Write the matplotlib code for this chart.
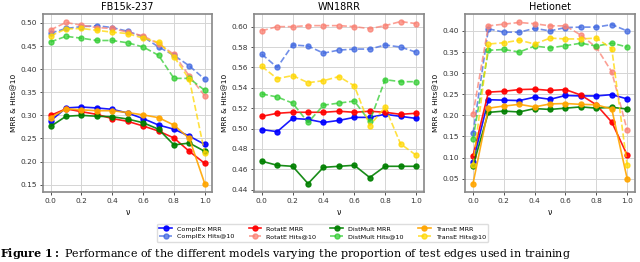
import numpy as np
import matplotlib.pyplot as plt

# proportion nu
nu = [0.0, 0.1, 0.2, 0.3, 0.4, 0.5, 0.6, 0.7, 0.8, 0.9, 1.0]

datasets = ['FB15k-237', 'WN18RR', 'Hetionet']

# FB15k-237
fb_complex_mrr = [0.288, 0.316, 0.318, 0.316, 0.313, 0.305, 0.293, 0.279, 0.270, 0.255, 0.237]
fb_complex_hits = [0.478, 0.488, 0.492, 0.494, 0.490, 0.482, 0.470, 0.448, 0.430, 0.407, 0.378]
fb_rotate_mrr = [0.300, 0.314, 0.308, 0.302, 0.293, 0.287, 0.277, 0.266, 0.251, 0.222, 0.196]
fb_rotate_hits = [0.485, 0.501, 0.495, 0.490, 0.488, 0.480, 0.472, 0.455, 0.432, 0.385, 0.342]
fb_distmult_mrr = [0.276, 0.298, 0.300, 0.298, 0.297, 0.292, 0.284, 0.270, 0.236, 0.240, 0.222]
fb_distmult_hits = [0.459, 0.471, 0.467, 0.462, 0.462, 0.457, 0.448, 0.430, 0.380, 0.380, 0.354]
fb_transe_mrr = [0.295, 0.314, 0.312, 0.310, 0.310, 0.306, 0.301, 0.295, 0.279, 0.250, 0.152]
fb_transe_hits = [0.472, 0.487, 0.488, 0.484, 0.480, 0.477, 0.467, 0.458, 0.427, 0.378, 0.218]

# WN18RR (TransE MRR is below the shown range)
wn_complex_mrr = [0.499, 0.497, 0.510, 0.509, 0.506, 0.508, 0.511, 0.511, 0.514, 0.512, 0.510]
wn_complex_hits = [0.573, 0.560, 0.582, 0.581, 0.574, 0.577, 0.578, 0.578, 0.582, 0.580, 0.575]
wn_rotate_mrr = [0.512, 0.515, 0.516, 0.516, 0.516, 0.517, 0.516, 0.517, 0.516, 0.514, 0.515]
wn_rotate_hits = [0.596, 0.600, 0.600, 0.601, 0.601, 0.601, 0.600, 0.598, 0.601, 0.605, 0.603]
wn_distmult_mrr = [0.468, 0.464, 0.463, 0.446, 0.462, 0.463, 0.464, 0.452, 0.463, 0.463, 0.463]
wn_distmult_hits = [0.534, 0.531, 0.525, 0.506, 0.523, 0.525, 0.527, 0.507, 0.548, 0.546, 0.546]
wn_transe_mrr = None
wn_transe_hits = [0.561, 0.549, 0.552, 0.545, 0.547, 0.551, 0.542, 0.503, 0.521, 0.485, 0.474]

# Hetionet
he_complex_mrr = [0.090, 0.237, 0.236, 0.235, 0.243, 0.238, 0.247, 0.246, 0.246, 0.249, 0.239]
he_complex_hits = [0.157, 0.405, 0.397, 0.397, 0.406, 0.400, 0.408, 0.409, 0.409, 0.415, 0.400]
he_rotate_mrr = [0.104, 0.255, 0.257, 0.261, 0.262, 0.259, 0.261, 0.248, 0.225, 0.184, 0.106]
he_rotate_hits = [0.203, 0.412, 0.416, 0.420, 0.417, 0.412, 0.412, 0.390, 0.361, 0.303, 0.165]
he_distmult_mrr = [0.080, 0.207, 0.210, 0.208, 0.216, 0.214, 0.217, 0.220, 0.217, 0.219, 0.215]
he_distmult_hits = [0.145, 0.354, 0.356, 0.350, 0.364, 0.360, 0.365, 0.371, 0.364, 0.371, 0.362]
he_transe_mrr = [0.038, 0.217, 0.222, 0.226, 0.220, 0.227, 0.228, 0.226, 0.225, 0.215, 0.050]
he_transe_hits = [0.083, 0.369, 0.372, 0.378, 0.369, 0.383, 0.381, 0.381, 0.383, 0.358, 0.082]

series_names = ['ComplEx MRR', 'ComplEx Hits@10', 'RotatE MRR', 'RotatE Hits@10',
                'DistMult MRR', 'DistMult Hits@10', 'TransE MRR', 'TransE Hits@10']
colors = ['blue', 'royalblue', 'red', 'salmon', 'green', 'limegreen', 'orange', 'gold']

all_data = [
    [fb_complex_mrr, fb_complex_hits, fb_rotate_mrr, fb_rotate_hits,
     fb_distmult_mrr, fb_distmult_hits, fb_transe_mrr, fb_transe_hits],
    [wn_complex_mrr, wn_complex_hits, wn_rotate_mrr, wn_rotate_hits,
     wn_distmult_mrr, wn_distmult_hits, wn_transe_mrr, wn_transe_hits],
    [he_complex_mrr, he_complex_hits, he_rotate_mrr, he_rotate_hits,
     he_distmult_mrr, he_distmult_hits, he_transe_mrr, he_transe_hits],
]

yticks = [np.arange(0.15, 0.51, 0.05), np.arange(0.44, 0.61, 0.02), np.arange(0.05, 0.41, 0.05)]

plt.rcParams['mathtext.fontset'] = 'dejavuserif'

fig = plt.figure(figsize=(6.4, 2.62), dpi=100)
lefts = [0.067, 0.397, 0.727]
axes = [fig.add_axes([l, 0.268, 0.265, 0.677]) for l in lefts]

handles = {}
for ax, name, data, yt in zip(axes, datasets, all_data, yticks):
    for lab, c, vals in zip(series_names, colors, data):
        if vals is None:
            continue
        hits = 'Hits' in lab
        h, = ax.plot(nu, vals, color=c, marker='o', markersize=3.6,
                     linestyle='--' if hits else '-', linewidth=1.2,
                     alpha=0.75 if hits else 0.9, label=lab)
        handles[lab] = h
    ax.set_title(name, fontsize=7, pad=3)
    ax.set_xlabel('ν', fontsize=5.5, labelpad=3)
    ax.set_ylabel('MRR & Hits@10', fontsize=5.3, labelpad=2)
    ax.set_xticks([0.0, 0.2, 0.4, 0.6, 0.8, 1.0])
    ax.set_yticks(yt)
    ax.yaxis.set_major_formatter(plt.FormatStrFormatter('%.2f'))
    ax.tick_params(labelsize=5.3, length=2.5, width=0.6, pad=2, colors='#333333')
    ax.grid(True, color='#d5d5d5', linewidth=0.7)
    for s in ax.spines.values():
        s.set_color('#888888')
        s.set_linewidth(1.2)

axes[1].set_ylim(0.438, 0.612)

fig.legend([handles[n] for n in series_names], series_names, loc='center',
           bbox_to_anchor=(0.504, 0.112), ncol=4, fontsize=4.6, frameon=True,
           handlelength=2.0, columnspacing=2.2, labelspacing=0.35,
           borderpad=0.4, edgecolor='#dddddd', framealpha=1)

fig.text(0.0, 0.004, r'$\mathbf{Figure\ 1:}$ Performance of the different models varying the proportion of test edges used in training',
         fontsize=8, family='serif', va='bottom')

fig.savefig('out.png', dpi=100)
